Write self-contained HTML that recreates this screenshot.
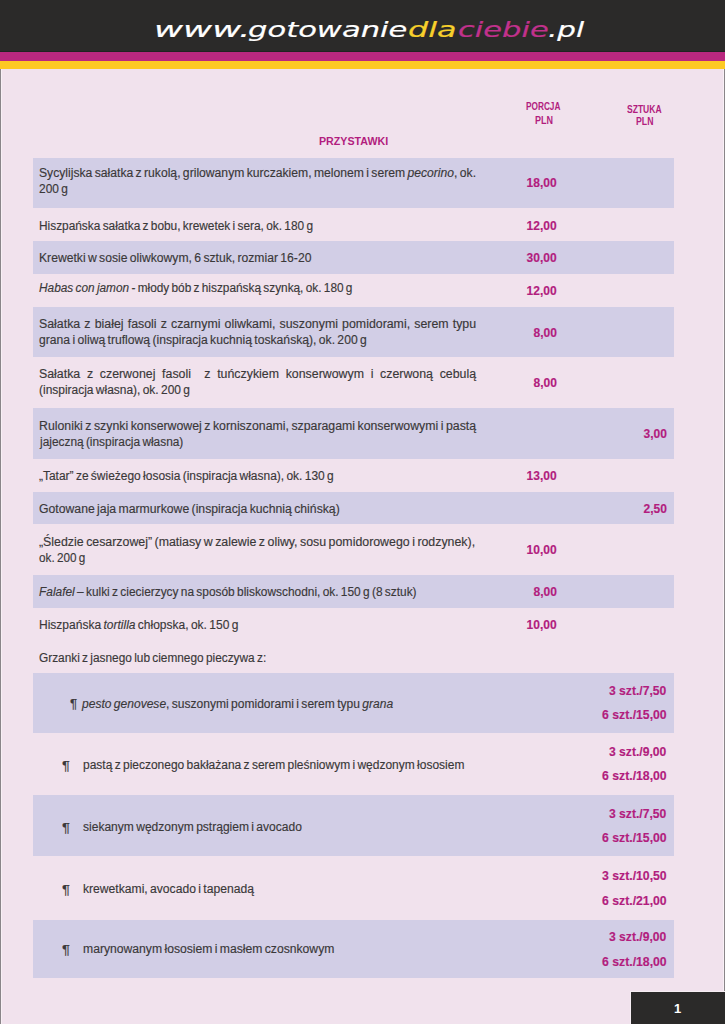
<!DOCTYPE html><html lang="pl"><head><meta charset="utf-8"><title>Przystawki</title><style>
html,body{margin:0;padding:0}body{width:725px;height:1024px;overflow:hidden;position:relative;background:#f1e2ed;font-family:"Liberation Sans",Arial,sans-serif}
.a{position:absolute}.t{position:absolute;white-space:nowrap;line-height:1;transform-origin:0 0}
.r{position:absolute;left:33px;width:641px;background:#d2cee6}
</style></head><body>
<div class="a" style="left:0;top:0;width:725px;height:52px;background:#2b2a29"></div>
<div class="a" style="left:0;top:51px;width:725px;height:1px;background:#1f2421"></div>
<div class="a" style="left:0;top:52px;width:725px;height:9px;background:#b9287f"></div>
<div class="a" style="left:0;top:61px;width:725px;height:8px;background:#fdc923"></div>
<div class="a" style="left:0;top:69px;width:1px;height:955px;background:#8a8589"></div>
<div class="a" style="left:724px;top:69px;width:1px;height:923px;background:#8a8589"></div>
<div class="a" style="left:1px;top:69px;width:1px;height:955px;background:#f8f0f5"></div>
<div class="a" style="left:723px;top:69px;width:1px;height:923px;background:#f8f0f5"></div>
<div class="r" style="top:158px;height:50px"></div>
<div class="r" style="top:241px;height:33px"></div>
<div class="r" style="top:307px;height:50px"></div>
<div class="r" style="top:408px;height:51px"></div>
<div class="r" style="top:492px;height:32px"></div>
<div class="r" style="top:575px;height:33px"></div>
<div class="r" style="top:673px;height:60px"></div>
<div class="r" style="top:795px;height:61px"></div>
<div class="r" style="top:920px;height:58px"></div>
<div class="t" id="i0" style="left:39.40px;top:167.00px;font-size:12.00px;color:#3a3839;word-spacing:-1.00px;-webkit-text-stroke:0.15px #3a3839;width:430.99px;text-align:justify;text-align-last:justify;transform:scaleX(1.0128)">Sycylijska sałatka z rukolą, grilowanym kurczakiem, melonem i serem <i>pecorino</i>, ok.</div>
<div class="t" id="i1" style="left:39.40px;top:183.00px;font-size:12.00px;color:#3a3839;word-spacing:-1.00px;-webkit-text-stroke:0.15px #3a3839;transform:scaleX(0.9929)">200 g</div>
<div class="t" id="i2" style="left:39.40px;top:220.00px;font-size:12.00px;color:#3a3839;word-spacing:-1.00px;-webkit-text-stroke:0.15px #3a3839;transform:scaleX(0.9888)">Hiszpańska sałatka z bobu, krewetek i sera, ok. 180 g</div>
<div class="t" id="i3" style="left:39.40px;top:252.00px;font-size:12.00px;color:#3a3839;word-spacing:-1.00px;-webkit-text-stroke:0.15px #3a3839;transform:scaleX(1.0123)">Krewetki w sosie oliwkowym, 6 sztuk, rozmiar 16-20</div>
<div class="t" id="i4" style="left:39.40px;top:282.00px;font-size:12.00px;color:#3a3839;word-spacing:-1.00px;-webkit-text-stroke:0.15px #3a3839;transform:scaleX(0.9861)"><i>Habas con jamon</i> - młody bób z hiszpańską szynką, ok. 180 g</div>
<div class="t" id="i5" style="left:39.39px;top:318.00px;font-size:12.00px;color:#3a3839;word-spacing:-1.00px;-webkit-text-stroke:0.15px #3a3839;width:424.37px;text-align:justify;text-align-last:justify;transform:scaleX(1.0300)">Sałatka z białej fasoli z czarnymi oliwkami, suszonymi pomidorami, serem typu</div>
<div class="t" id="i6" style="left:39.40px;top:334.00px;font-size:12.00px;color:#3a3839;word-spacing:-1.00px;-webkit-text-stroke:0.15px #3a3839;transform:scaleX(1.0121)">grana i oliwą truflową (inspiracja kuchnią toskańską), ok. 200 g</div>
<div class="t" id="i7" style="left:39.39px;top:368.00px;font-size:12.00px;color:#3a3839;word-spacing:-1.00px;-webkit-text-stroke:0.15px #3a3839;width:424.37px;text-align:justify;text-align-last:justify;transform:scaleX(1.0300)">Sałatka z czerwonej fasoli&nbsp; z tuńczykiem konserwowym i czerwoną cebulą</div>
<div class="t" id="i8" style="left:39.40px;top:384.00px;font-size:12.00px;color:#3a3839;word-spacing:-1.00px;-webkit-text-stroke:0.15px #3a3839;transform:scaleX(0.9967)">(inspiracja własna), ok. 200 g</div>
<div class="t" id="i9" style="left:39.39px;top:420.00px;font-size:12.00px;color:#3a3839;word-spacing:-1.00px;-webkit-text-stroke:0.15px #3a3839;width:425.97px;text-align:justify;text-align-last:justify;transform:scaleX(1.0261)">Ruloniki z szynki konserwowej z korniszonami, szparagami konserwowymi i pastą</div>
<div class="t" id="i10" style="left:40.39px;top:436.00px;font-size:12.00px;color:#3a3839;word-spacing:-1.00px;-webkit-text-stroke:0.15px #3a3839;transform:scaleX(0.9903)">jajeczną (inspiracja własna)</div>
<div class="t" id="i11" style="left:39.40px;top:470.00px;font-size:12.00px;color:#3a3839;word-spacing:-1.00px;-webkit-text-stroke:0.15px #3a3839;transform:scaleX(0.9973)">„Tatar” ze świeżego łososia (inspiracja własna), ok. 130 g</div>
<div class="t" id="i12" style="left:39.39px;top:503.00px;font-size:12.00px;color:#3a3839;word-spacing:-1.00px;-webkit-text-stroke:0.15px #3a3839;transform:scaleX(1.0190)">Gotowane jaja marmurkowe (inspiracja kuchnią chińską)</div>
<div class="t" id="i13" style="left:39.39px;top:536.00px;font-size:12.00px;color:#3a3839;word-spacing:-1.00px;-webkit-text-stroke:0.15px #3a3839;width:423.40px;text-align:justify;text-align-last:justify;transform:scaleX(1.0300)">„Śledzie cesarzowej” (matiasy w zalewie z oliwy, sosu pomidorowego i rodzynek),</div>
<div class="t" id="i14" style="left:39.41px;top:552.00px;font-size:12.00px;color:#3a3839;word-spacing:-1.00px;-webkit-text-stroke:0.15px #3a3839;transform:scaleX(0.9766)">ok. 200 g</div>
<div class="t" id="i15" style="left:39.40px;top:586.00px;font-size:12.00px;color:#3a3839;word-spacing:-1.00px;-webkit-text-stroke:0.15px #3a3839;transform:scaleX(0.9913)"><i>Falafel</i> – kulki z ciecierzycy na sposób bliskowschodni, ok. 150 g (8 sztuk)</div>
<div class="t" id="i16" style="left:39.40px;top:619.00px;font-size:12.00px;color:#3a3839;word-spacing:-1.00px;-webkit-text-stroke:0.15px #3a3839;transform:scaleX(1.0010)">Hiszpańska <i>tortilla</i> chłopska, ok. 150 g</div>
<div class="t" id="i17" style="left:39.40px;top:652.00px;font-size:12.00px;color:#3a3839;word-spacing:-1.00px;-webkit-text-stroke:0.15px #3a3839;transform:scaleX(0.9873)">Grzanki z jasnego lub ciemnego pieczywa z:</div>
<div class="t" id="i18" style="left:69.63px;top:698.00px;font-size:12.00px;color:#3a3839;word-spacing:-1.00px;-webkit-text-stroke:0.15px #3a3839;transform:scaleX(1.1167)">¶</div>
<div class="t" id="i19" style="left:82.00px;top:698.00px;font-size:12.00px;color:#3a3839;word-spacing:-1.00px;-webkit-text-stroke:0.15px #3a3839;transform:scaleX(1.0042)"><i>pesto genovese</i>, suszonymi pomidorami i serem typu <i>grana</i></div>
<div class="t" id="i20" style="left:62.00px;top:760.00px;font-size:12.00px;color:#3a3839;word-spacing:-1.00px;-webkit-text-stroke:0.15px #3a3839;transform:scaleX(1.2167)">¶</div>
<div class="t" id="i21" style="left:83.40px;top:759.00px;font-size:12.00px;color:#3a3839;word-spacing:-1.00px;-webkit-text-stroke:0.15px #3a3839;transform:scaleX(0.9987)">pastą z pieczonego bakłażana z serem pleśniowym i wędzonym łososiem</div>
<div class="t" id="i22" style="left:62.00px;top:822.00px;font-size:12.00px;color:#3a3839;word-spacing:-1.00px;-webkit-text-stroke:0.15px #3a3839;transform:scaleX(1.2333)">¶</div>
<div class="t" id="i23" style="left:83.20px;top:821.00px;font-size:12.00px;color:#3a3839;word-spacing:-1.00px;-webkit-text-stroke:0.15px #3a3839;transform:scaleX(1.0037)">siekanym wędzonym pstrągiem i avocado</div>
<div class="t" id="i24" style="left:62.00px;top:884.00px;font-size:12.00px;color:#3a3839;word-spacing:-1.00px;-webkit-text-stroke:0.15px #3a3839;transform:scaleX(1.2333)">¶</div>
<div class="t" id="i25" style="left:83.20px;top:883.00px;font-size:12.00px;color:#3a3839;word-spacing:-1.00px;-webkit-text-stroke:0.15px #3a3839;transform:scaleX(1.0106)">krewetkami, avocado i tapenadą</div>
<div class="t" id="i26" style="left:62.00px;top:944.00px;font-size:12.00px;color:#3a3839;word-spacing:-1.00px;-webkit-text-stroke:0.15px #3a3839;transform:scaleX(1.2333)">¶</div>
<div class="t" id="i27" style="left:83.20px;top:943.00px;font-size:12.00px;color:#3a3839;word-spacing:-1.00px;-webkit-text-stroke:0.15px #3a3839;transform:scaleX(1.0133)">marynowanym łososiem i masłem czosnkowym</div>
<div class="t" id="i28" style="left:526.60px;top:177.00px;font-size:12.00px;color:#b21d7e;font-weight:700;-webkit-text-stroke:0.15px #b21d7e">18,00</div>
<div class="t" id="i29" style="left:526.60px;top:220.00px;font-size:12.00px;color:#b21d7e;font-weight:700;-webkit-text-stroke:0.15px #b21d7e">12,00</div>
<div class="t" id="i30" style="left:526.60px;top:252.00px;font-size:12.00px;color:#b21d7e;font-weight:700;-webkit-text-stroke:0.15px #b21d7e">30,00</div>
<div class="t" id="i31" style="left:526.60px;top:285.00px;font-size:12.00px;color:#b21d7e;font-weight:700;-webkit-text-stroke:0.15px #b21d7e">12,00</div>
<div class="t" id="i32" style="left:533.60px;top:327.00px;font-size:12.00px;color:#b21d7e;font-weight:700;-webkit-text-stroke:0.15px #b21d7e">8,00</div>
<div class="t" id="i33" style="left:533.60px;top:377.00px;font-size:12.00px;color:#b21d7e;font-weight:700;-webkit-text-stroke:0.15px #b21d7e">8,00</div>
<div class="t" id="i34" style="left:643.60px;top:428.00px;font-size:12.00px;color:#b21d7e;font-weight:700;-webkit-text-stroke:0.15px #b21d7e">3,00</div>
<div class="t" id="i35" style="left:526.60px;top:470.00px;font-size:12.00px;color:#b21d7e;font-weight:700;-webkit-text-stroke:0.15px #b21d7e">13,00</div>
<div class="t" id="i36" style="left:643.60px;top:503.00px;font-size:12.00px;color:#b21d7e;font-weight:700;-webkit-text-stroke:0.15px #b21d7e">2,50</div>
<div class="t" id="i37" style="left:526.60px;top:544.00px;font-size:12.00px;color:#b21d7e;font-weight:700;-webkit-text-stroke:0.15px #b21d7e">10,00</div>
<div class="t" id="i38" style="left:533.60px;top:586.00px;font-size:12.00px;color:#b21d7e;font-weight:700;-webkit-text-stroke:0.15px #b21d7e">8,00</div>
<div class="t" id="i39" style="left:526.60px;top:619.00px;font-size:12.00px;color:#b21d7e;font-weight:700;-webkit-text-stroke:0.15px #b21d7e">10,00</div>
<div class="t" id="i40" style="left:609.40px;top:685.00px;font-size:12.00px;color:#b21d7e;font-weight:700;-webkit-text-stroke:0.15px #b21d7e;transform:scaleX(1.0105)">3 szt./7,50</div>
<div class="t" id="i41" style="left:601.99px;top:709.00px;font-size:12.00px;color:#b21d7e;font-weight:700;-webkit-text-stroke:0.15px #b21d7e;transform:scaleX(1.0206)">6 szt./15,00</div>
<div class="t" id="i42" style="left:609.40px;top:746.00px;font-size:12.00px;color:#b21d7e;font-weight:700;-webkit-text-stroke:0.15px #b21d7e;transform:scaleX(1.0105)">3 szt./9,00</div>
<div class="t" id="i43" style="left:601.99px;top:770.00px;font-size:12.00px;color:#b21d7e;font-weight:700;-webkit-text-stroke:0.15px #b21d7e;transform:scaleX(1.0206)">6 szt./18,00</div>
<div class="t" id="i44" style="left:609.40px;top:808.00px;font-size:12.00px;color:#b21d7e;font-weight:700;-webkit-text-stroke:0.15px #b21d7e;transform:scaleX(1.0105)">3 szt./7,50</div>
<div class="t" id="i45" style="left:601.99px;top:832.00px;font-size:12.00px;color:#b21d7e;font-weight:700;-webkit-text-stroke:0.15px #b21d7e;transform:scaleX(1.0206)">6 szt./15,00</div>
<div class="t" id="i46" style="left:601.99px;top:870.00px;font-size:12.00px;color:#b21d7e;font-weight:700;-webkit-text-stroke:0.15px #b21d7e;transform:scaleX(1.0206)">3 szt./10,50</div>
<div class="t" id="i47" style="left:601.99px;top:895.00px;font-size:12.00px;color:#b21d7e;font-weight:700;-webkit-text-stroke:0.15px #b21d7e;transform:scaleX(1.0206)">6 szt./21,00</div>
<div class="t" id="i48" style="left:609.40px;top:931.00px;font-size:12.00px;color:#b21d7e;font-weight:700;-webkit-text-stroke:0.15px #b21d7e;transform:scaleX(1.0105)">3 szt./9,00</div>
<div class="t" id="i49" style="left:601.99px;top:956.00px;font-size:12.00px;color:#b21d7e;font-weight:700;-webkit-text-stroke:0.15px #b21d7e;transform:scaleX(1.0206)">6 szt./18,00</div>
<div class="t" id="i50" style="left:526.18px;top:102.00px;font-size:10.00px;color:#b21d7e;font-weight:700;transform:scaleX(0.8262)">PORCJA</div>
<div class="t" id="i51" style="left:534.62px;top:116.00px;font-size:10.00px;color:#b21d7e;font-weight:700;transform:scaleX(0.9000)">PLN</div>
<div class="t" id="i52" style="left:627.37px;top:105.00px;font-size:10.00px;color:#b21d7e;font-weight:700;transform:scaleX(0.8537)">SZTUKA</div>
<div class="t" id="i53" style="left:636.25px;top:117.00px;font-size:10.00px;color:#b21d7e;font-weight:700;transform:scaleX(0.8737)">PLN</div>
<div class="t" id="i54" style="left:319.00px;top:136.00px;font-size:11.80px;color:#b21d7e;font-weight:700;transform:scaleX(0.9039)">PRZYSTAWKI</div>
<div class="t" id="i55" style="left:154.22px;top:19.00px;font-size:21.50px;color:#ffffff;font-family:'DejaVu Sans','Liberation Sans',sans-serif;font-style:italic;-webkit-text-stroke:0.2px #ffffff;transform:scaleX(1.6537)">www.</div>
<div class="t" id="i56" style="left:248.27px;top:19.00px;font-size:21.50px;color:#ffffff;font-family:'DejaVu Sans','Liberation Sans',sans-serif;font-style:italic;-webkit-text-stroke:0.2px #ffffff;transform:scaleX(1.4234)">gotowanie</div>
<div class="t" id="i57" style="left:408.27px;top:19.00px;font-size:21.50px;color:#f7cf2b;font-family:'DejaVu Sans','Liberation Sans',sans-serif;font-style:italic;-webkit-text-stroke:0.2px #f7cf2b;transform:scaleX(1.4806)">dla</div>
<div class="t" id="i58" style="left:457.79px;top:19.00px;font-size:21.50px;color:#c1318c;font-family:'DejaVu Sans','Liberation Sans',sans-serif;font-style:italic;-webkit-text-stroke:0.2px #c1318c;transform:scaleX(1.4222)">ciebie</div>
<div class="t" id="i59" style="left:547.82px;top:19.00px;font-size:21.50px;color:#ffffff;font-family:'DejaVu Sans','Liberation Sans',sans-serif;font-style:italic;-webkit-text-stroke:0.2px #ffffff;transform:scaleX(1.3654)">.pl</div>
<div class="a" style="left:630px;top:991px;width:95px;height:33px;background:#2b2a29;border-top:1px solid #f6eef3;border-left:1px solid #f6eef3;box-sizing:border-box"></div>
<div class="t" style="left:674px;top:1001.60px;font-size:13px;font-weight:700;color:#fff">1</div>
</body></html>
